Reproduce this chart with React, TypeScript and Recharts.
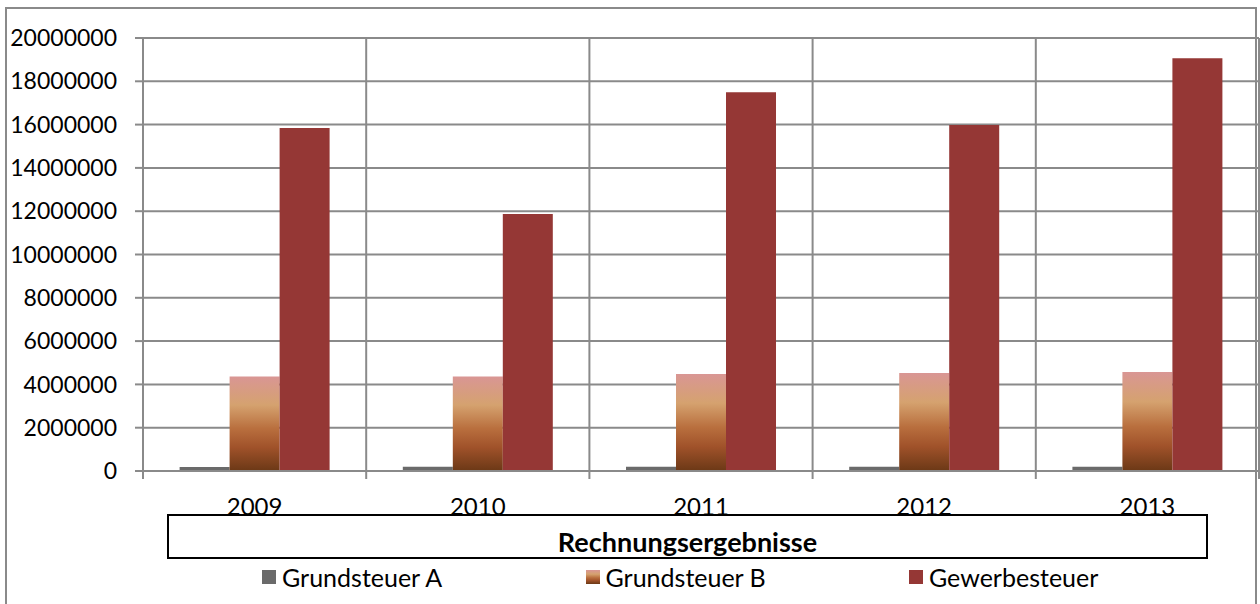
import { Bar, BarChart, CartesianGrid, XAxis, YAxis } from 'recharts'

const years = ['2009', '2010', '2011', '2012', '2013']
const grundsteuerA = [190000, 195000, 195000, 195000, 200000]
const grundsteuerB = [4360000, 4360000, 4480000, 4530000, 4570000]
const gewerbesteuer = [15840000, 11870000, 17500000, 15980000, 19060000]
const yTicks = [0, 2000000, 4000000, 6000000, 8000000, 10000000, 12000000, 14000000, 16000000, 18000000, 20000000]

const seriesNames = ['Grundsteuer A', 'Grundsteuer B', 'Gewerbesteuer']
const chartTitle = 'Rechnungsergebnisse'

const data = years.map((year, i) => ({
  year,
  a: grundsteuerA[i],
  b: grundsteuerB[i],
  g: gewerbesteuer[i],
}))

const FONT = 'Lato, "Open Sans", sans-serif'
const GRID = '#8a8a8a'
const COL_A = '#6a6a6a'
const COL_G = '#953735'
const GRAD_B = 'linear-gradient(to bottom, #d99694 0%, #d5a26f 30%, #b96f3e 55%, #a0522a 75%, #6b3816 100%)'

function XTick(props: any) {
  const { x, y, payload } = props
  const band = 1116 / years.length
  const left = x - band / 2
  const right = x + band / 2
  const base = y - 8
  const isLast = payload.index === years.length - 1
  return (
    <g>
      <line x1={left} y1={base} x2={left} y2={base + 8} stroke={GRID} strokeWidth={2} />
      {isLast && <line x1={right} y1={base} x2={right} y2={base + 8} stroke={GRID} strokeWidth={2} />}
      <text x={x} y={base + 44} textAnchor="middle" fill="#000" fontSize={24} fontFamily={FONT}>
        {payload.value}
      </text>
    </g>
  )
}

export default function App() {
  return (
    <div style={{ position: 'absolute', left: 0, top: 0, width: 1260, height: 604, overflow: 'hidden', background: '#fff' }}>
      <div
        style={{
          position: 'absolute',
          left: 5,
          top: 7,
          width: 1252,
          height: 610,
          border: '2px solid #8a8a8a',
          boxSizing: 'border-box',
        }}
      />
      <div style={{ position: 'absolute', left: 0, top: 0 }}>
        <BarChart
          width={1260}
          height={604}
          data={data}
          margin={{ top: 38, right: 1, left: 0, bottom: 0 }}
          barCategoryGap="16.4%"
          barGap={0}
        >
          <defs>
            <linearGradient id="gradB" x1="0" y1="0" x2="0" y2="1">
              <stop offset="0%" stopColor="#d99694" />
              <stop offset="30%" stopColor="#d5a26f" />
              <stop offset="55%" stopColor="#b96f3e" />
              <stop offset="75%" stopColor="#a0522a" />
              <stop offset="100%" stopColor="#6b3816" />
            </linearGradient>
          </defs>
          <CartesianGrid
            stroke={GRID}
            strokeWidth={2}
            verticalCoordinatesGenerator={({ offset }: any) =>
              years.map((_, i) => offset.left + (i * offset.width) / years.length).concat(offset.left + offset.width)
            }
          />
          <XAxis
            dataKey="year"
            height={133}
            axisLine={{ stroke: GRID, strokeWidth: 2 }}
            tickLine={false}
            tick={<XTick />}
            interval={0}
          />
          <YAxis
            width={143}
            domain={[0, 20000000]}
            ticks={yTicks}
            interval={0}
            axisLine={{ stroke: GRID, strokeWidth: 2 }}
            tickLine={{ stroke: GRID, strokeWidth: 2 }}
            tickSize={8}
            tickMargin={18}
            tick={{ fill: '#000', fontSize: 23, fontFamily: FONT }}
          />
          <Bar dataKey="a" name={seriesNames[0]} fill={COL_A} isAnimationActive={false} />
          <Bar dataKey="b" name={seriesNames[1]} fill="url(#gradB)" isAnimationActive={false} />
          <Bar dataKey="g" name={seriesNames[2]} fill={COL_G} isAnimationActive={false} />
        </BarChart>
      </div>
      <div
        style={{
          position: 'absolute',
          left: 167,
          top: 514,
          width: 1041,
          height: 45,
          border: '2px solid #000',
          boxSizing: 'border-box',
          display: 'flex',
          alignItems: 'flex-end',
          justifyContent: 'center',
          fontFamily: FONT,
          fontWeight: 700,
          fontSize: 27,
          lineHeight: '30px',
          color: '#000',
        }}
      >
        {chartTitle}
      </div>
      {seriesNames.map((name, i) => (
        <div
          key={name}
          style={{
            position: 'absolute',
            left: 262 + i * 323.5,
            top: 562,
            display: 'flex',
            alignItems: 'center',
            gap: 6,
            fontFamily: FONT,
            fontSize: 25,
            lineHeight: '30px',
            color: '#000',
          }}
        >
          <span
            style={{
              width: 14,
              height: 14,
              display: 'inline-block',
              background: i === 0 ? COL_A : i === 1 ? GRAD_B : COL_G,
            }}
          />
          <span>{name}</span>
        </div>
      ))}
    </div>
  )
}
